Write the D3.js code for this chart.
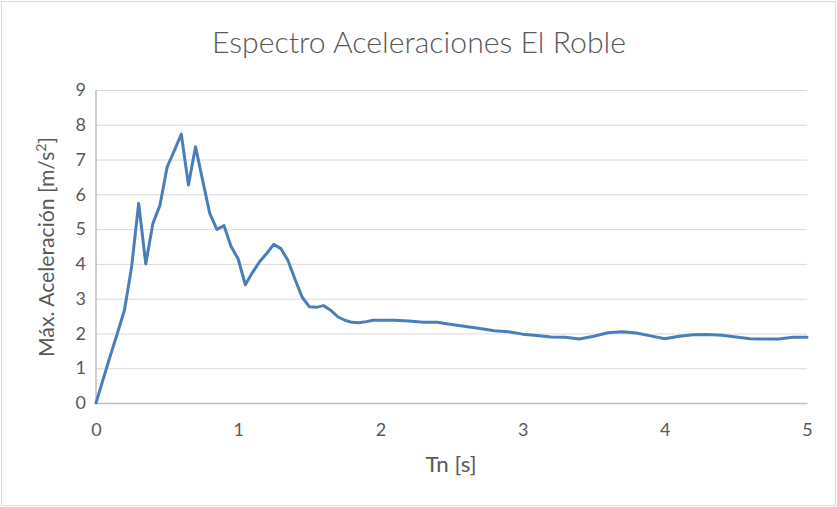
<!DOCTYPE html>
<html>
<head>
<meta charset="utf-8">
<script src="https://cdn.jsdelivr.net/npm/d3@7"></script>
<style>
  html, body { margin: 0; padding: 0; background: #fff; }
  svg { display: block; }
</style>
</head>
<body>
<svg id="chart" width="837" height="507"></svg>
<script>
const titleText = "Espectro Aceleraciones El Roble";
const xLabel = "Tn [s]";
const yTicks = [0, 1, 2, 3, 4, 5, 6, 7, 8, 9];
const xTicks = [0, 1, 2, 3, 4, 5];
const periods = [0,0.05,0.1,0.15,0.2,0.25,0.3,0.35,0.4,0.45,0.5,0.55,0.6,0.65,0.7,0.75,0.8,0.85,0.9,0.95,1.0,1.05,1.1,1.15,1.2,1.25,1.3,1.35,1.4,1.45,1.5,1.55,1.6,1.65,1.7,1.75,1.8,1.85,1.9,1.95,2.0,2.1,2.2,2.3,2.4,2.5,2.6,2.7,2.8,2.9,3.0,3.1,3.2,3.3,3.4,3.5,3.6,3.7,3.8,3.9,4.0,4.1,4.2,4.3,4.4,4.5,4.6,4.7,4.8,4.9,5.0];
const accel = [0,0.68,1.35,2.0,2.67,3.9,5.74,4.0,5.16,5.69,6.78,7.25,7.73,6.27,7.37,6.4,5.45,4.99,5.1,4.5,4.14,3.4,3.75,4.06,4.3,4.56,4.44,4.1,3.55,3.04,2.77,2.75,2.80,2.67,2.48,2.38,2.32,2.31,2.34,2.38,2.38,2.38,2.36,2.32,2.32,2.26,2.2,2.14,2.08,2.05,1.98,1.94,1.90,1.89,1.84,1.92,2.02,2.05,2.01,1.93,1.85,1.92,1.96,1.97,1.95,1.9,1.85,1.84,1.84,1.89,1.89];

const svg = d3.select("#chart");
const W = 837, H = 507;
const m = { left: 96, right: 30, top: 90, bottom: 104 };
const x = d3.scaleLinear().domain([0, 5]).range([m.left, W - m.right]);
const y = d3.scaleLinear().domain([0, 9]).range([H - m.bottom, m.top]);
const textColor = "#595959";
const font = "Lato, 'Open Sans', sans-serif";

svg.append("rect").attr("x", 1.5).attr("y", 1.5).attr("width", W - 3).attr("height", H - 3)
  .attr("fill", "#fff").attr("stroke", "#d9d9d9").attr("stroke-width", 1);

// gridlines
const yAxis = d3.axisLeft(y).tickValues(yTicks).tickSize(-(W - m.left - m.right)).tickFormat(d3.format("d")).tickPadding(10);
const gy = svg.append("g").attr("transform", `translate(${m.left},0)`).call(yAxis);
gy.select(".domain").remove();
gy.selectAll(".tick line").attr("stroke", "#d9d9d9").attr("stroke-width", 1);
gy.selectAll(".tick text").attr("fill", textColor).style("font-family", font).style("font-size", "18px");

const xAxis = d3.axisBottom(x).tickValues(xTicks).tickSize(0).tickFormat(d3.format("d")).tickPadding(20);
const gx = svg.append("g").attr("transform", `translate(0,${H - m.bottom})`).call(xAxis);
gx.select(".domain").attr("stroke", "#bfbfbf").attr("stroke-width", 1.5);
gx.selectAll(".tick text").attr("fill", textColor).style("font-family", font).style("font-size", "18px");

svg.append("line").attr("x1", x(0)).attr("x2", x(0)).attr("y1", y(0)).attr("y2", y(9))
  .attr("stroke", "#bfbfbf").attr("stroke-width", 1.5);

const data = periods.map((t, i) => [t, accel[i]]);
const line = d3.line().x(d => x(d[0])).y(d => y(d[1]));
svg.append("path").datum(data).attr("d", line).attr("fill", "none")
  .attr("stroke", "#4a7ebb").attr("stroke-width", 3).attr("stroke-linejoin", "round").attr("stroke-linecap", "round");

svg.append("text").attr("x", 419).attr("y", 53).attr("text-anchor", "middle")
  .attr("fill", textColor).style("font-family", font).style("font-weight", 300).style("font-size", "30px")
  .attr("textLength", 414).attr("lengthAdjust", "spacingAndGlyphs")
  .text(titleText);

svg.append("text").attr("x", 451).attr("y", 472).attr("text-anchor", "middle")
  .attr("fill", textColor).style("font-family", font).style("font-size", "22px")
  .attr("textLength", 51).attr("lengthAdjust", "spacingAndGlyphs")
  .text(xLabel);

const yl = svg.append("text").attr("transform", "translate(54,247) rotate(-90)").attr("text-anchor", "middle")
  .attr("fill", textColor).style("font-family", font).style("font-size", "21px")
  .attr("textLength", 220).attr("lengthAdjust", "spacingAndGlyphs");
yl.append("tspan").text("Máx. Aceleración [m/s");
yl.append("tspan").attr("dy", -8).style("font-size", "14px").text("2");
yl.append("tspan").attr("dy", 8).text("]");
</script>
</body>
</html>
